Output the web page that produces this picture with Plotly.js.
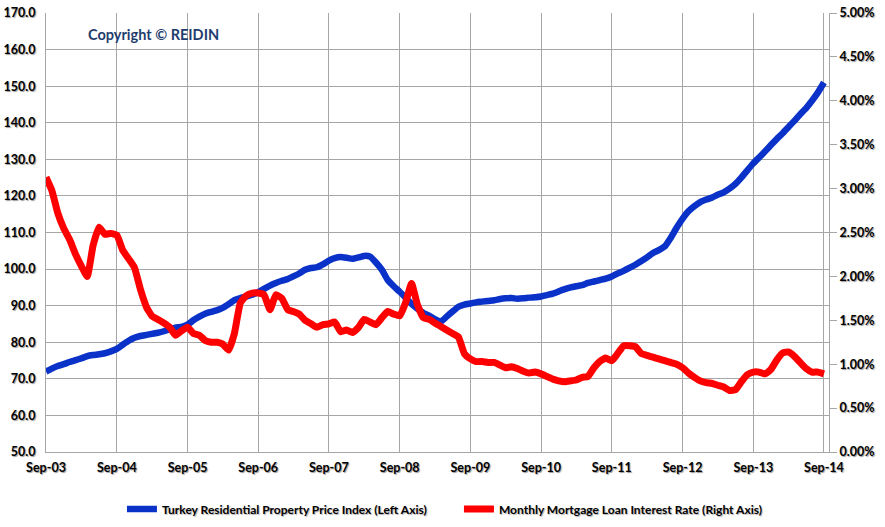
<!DOCTYPE html>
<html>
<head>
<meta charset="utf-8">
<script src="https://cdn.plot.ly/plotly-3.0.1.min.js"></script>
<style>html,body{margin:0;padding:0;background:#fff;}#chart{width:885px;height:527px;}</style>
</head>
<body>
<div id="chart"></div>
<script>
// First month of the monthly series (Sep-03)
var startYear = 2003;
var startMonth = 9;

// Turkey Residential Property Price Index (left axis), monthly Sep-03 .. Sep-14
var priceIndex = [
  72.0, 72.8, 73.5, 74.0, 74.6, 75.1, 75.6, 76.2, 76.5, 76.7, 77.0, 77.5,
  78.2, 79.3, 80.4, 81.2, 81.7, 82.0, 82.3, 82.6, 83.0, 83.6, 84.0, 84.2,
  84.8, 86.0, 87.0, 87.8, 88.3, 88.8, 89.4, 90.4, 91.5, 92.1, 92.5, 93.0,
  93.7, 94.6, 95.5, 96.2, 96.8, 97.3, 98.0, 98.8, 99.8, 100.3, 100.5, 101.3,
  102.3, 103.0, 103.3, 103.1, 102.8, 103.2, 103.6, 103.4, 101.8, 99.8, 97.0, 95.3,
  93.8, 92.2, 90.5, 89.2, 88.0, 87.2, 86.3, 85.6, 87.0, 88.4, 89.7, 90.3,
  90.6, 90.9, 91.1, 91.3, 91.5, 91.8, 92.0, 92.1, 91.9, 92.0, 92.2, 92.3,
  92.5, 92.9, 93.3, 93.9, 94.5, 95.0, 95.3, 95.6, 96.2, 96.6, 97.0, 97.4,
  98.0, 98.8, 99.5, 100.3, 101.2, 102.2, 103.2, 104.4, 105.2, 106.2, 108.5, 111.3,
  113.8, 115.8, 117.2, 118.3, 119.0, 119.6, 120.3, 121.0, 122.0, 123.3, 125.0, 127.0,
  128.9, 130.5, 132.2, 133.9, 135.6, 137.2, 138.8, 140.5, 142.3, 144.0, 146.0, 148.3,
  151.0
];

// Monthly Mortgage Loan Interest Rate, % (right axis), monthly Sep-03 .. Sep-14
var mortgageRate = [
  3.13, 2.98, 2.72, 2.55, 2.42, 2.25, 2.12, 2.00, 2.35, 2.56, 2.48, 2.49,
  2.47, 2.30, 2.20, 2.10, 1.85, 1.65, 1.55, 1.51, 1.47, 1.42, 1.33, 1.38,
  1.42, 1.35, 1.33, 1.27, 1.25, 1.25, 1.23, 1.16, 1.35, 1.70, 1.78, 1.81,
  1.81, 1.79, 1.62, 1.79, 1.75, 1.62, 1.60, 1.57, 1.50, 1.46, 1.42, 1.45,
  1.46, 1.48, 1.37, 1.39, 1.36, 1.42, 1.51, 1.48, 1.45, 1.53, 1.60, 1.57,
  1.55, 1.70, 1.92, 1.68, 1.53, 1.51, 1.47, 1.43, 1.39, 1.35, 1.31, 1.12,
  1.06, 1.03, 1.03, 1.02, 1.02, 0.99, 0.96, 0.97, 0.95, 0.92, 0.90, 0.91,
  0.89, 0.86, 0.83, 0.81, 0.80, 0.81, 0.82, 0.85, 0.86, 0.96, 1.03, 1.07,
  1.04, 1.12, 1.21, 1.21, 1.20, 1.12, 1.10, 1.08, 1.06, 1.04, 1.02, 1.00,
  0.96, 0.90, 0.85, 0.81, 0.79, 0.78, 0.76, 0.74, 0.70, 0.71, 0.80, 0.88,
  0.91, 0.91, 0.89, 0.94, 1.05, 1.13, 1.14, 1.09, 1.02, 0.95, 0.91, 0.91,
  0.89
];

var seriesNames = [
  "Turkey Residential Property Price Index (Left Axis)",
  "Monthly Mortgage Loan Interest Rate (Right Axis)"
];
var watermark = "Copyright \u00a9 REIDIN";

function monthDates(y0, m0, n) {
  var out = [];
  for (var i = 0; i < n; i++) {
    var t = (m0 - 1) + i;
    var y = y0 + Math.floor(t / 12);
    var m = (t % 12) + 1;
    out.push(y + "-" + (m < 10 ? "0" + m : m) + "-01");
  }
  return out;
}
var dates = monthDates(startYear, startMonth, priceIndex.length);

var FONT = "Lato, Liberation Sans, sans-serif";
var tickFont = {family: FONT, size: 12.5, color: "#000", weight: "bold", shadow: "1px 1px 1px #9a9a9a"};
var gridCol = "#a6a6a6";

var traces = [
  {
    x: dates, y: priceIndex, name: seriesNames[0], type: "scatter", mode: "lines",
    line: {color: "#0a32c8", width: 6.5, shape: "spline", smoothing: 0.4}, yaxis: "y"
  },
  {
    x: dates, y: mortgageRate, name: seriesNames[1], type: "scatter", mode: "lines",
    line: {color: "#ff0000", width: 7, shape: "spline", smoothing: 0.4}, yaxis: "y2"
  }
];

var layout = {
  width: 885, height: 527,
  margin: {l: 46, r: 56, t: 13, b: 75, autoexpand: false},
  paper_bgcolor: "#fff", plot_bgcolor: "#fff",
  showlegend: true,
  legend: {
    orientation: "h", xref: "paper", x: 0.097, xanchor: "left",
    yref: "container", y: 0.034, yanchor: "middle",
    font: {family: FONT, size: 12, color: "#000", weight: "bold", shadow: "1px 1px 1px #b0b0b0"},
    itemwidth: 30, entrywidth: 292, entrywidthmode: "pixels", tracegroupgap: 0
  },
  xaxis: {
    type: "date",
    range: ["2003-09-01", "2014-09-27"],
    tick0: "2003-09-01", dtick: "M12", tickformat: "%b-%y",
    showgrid: true, gridcolor: gridCol, gridwidth: 1,
    showline: true, linecolor: gridCol, linewidth: 1,
    ticks: "", ticklabelstandoff: 4, tickfont: tickFont, zeroline: false
  },
  yaxis: {
    range: [50, 170], dtick: 10, tick0: 50, tickformat: ".1f",
    showgrid: true, gridcolor: gridCol, gridwidth: 1,
    showline: true, linecolor: gridCol, linewidth: 1,
    ticks: "", ticklabelstandoff: 7, tickfont: tickFont, zeroline: false
  },
  yaxis2: {
    overlaying: "y", side: "right",
    range: [0, 5], dtick: 0.5, tick0: 0, tickformat: ".2f", ticksuffix: "%",
    showgrid: false, showline: true, linecolor: gridCol, linewidth: 1,
    ticks: "outside", ticklen: 7, tickcolor: gridCol,
    tickfont: tickFont, zeroline: false
  },
  shapes: [{
    type: "rect", xref: "paper", yref: "paper", layer: "between",
    x0: 0.009, x1: 0.252, y0: 0.9, y1: 0.995,
    fillcolor: "#fff", line: {width: 0}
  }],
  annotations: [{
    text: watermark, xref: "paper", yref: "paper",
    x: 0.051, xanchor: "left", y: 0.95, yanchor: "middle", showarrow: false,
    font: {family: FONT, size: 14.5, color: "#1f3d6e", weight: "bold"}
  }]
};

Plotly.newPlot("chart", traces, layout, {displayModeBar: false, staticPlot: true});
</script>
</body>
</html>
